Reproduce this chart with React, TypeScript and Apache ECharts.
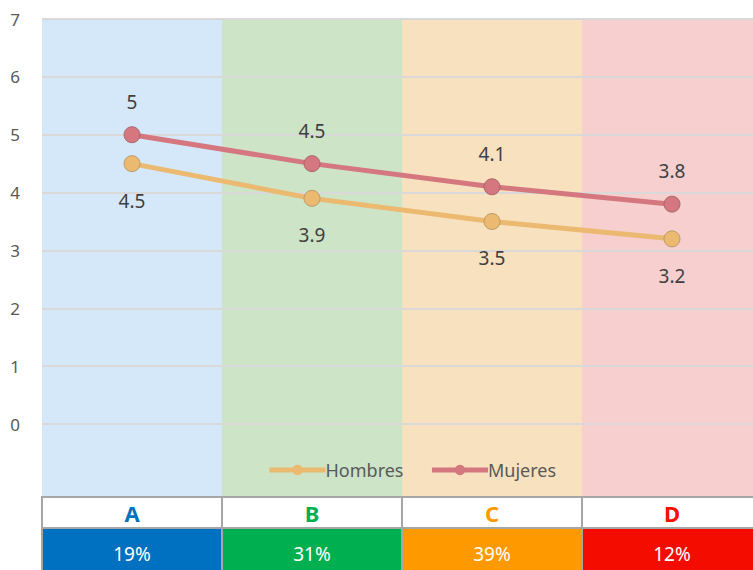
import React, { useEffect, useRef } from "react";
import * as echarts from "echarts";

const categories = ["A", "B", "C", "D"];
const hombres = [4.5, 3.9, 3.5, 3.2];
const mujeres = [5, 4.5, 4.1, 3.8];
const shares = ["19%", "31%", "39%", "12%"];
const bandColors = ["#d5e8fa", "#cde4c7", "#f8e1bf", "#f6cfce"];
const letterColors = ["#0070c0", "#00b050", "#ff9900", "#f51000"];
const cellColors = ["#0070c0", "#00b050", "#ff9900", "#f50c00"];

const BAND_TOP = 7;
const BAND_BOTTOM = -1.26;
const FONT = "'Noto Sans', 'Open Sans', sans-serif";

export default function App() {
  const ref = useRef<HTMLDivElement>(null);
  useEffect(() => {
    if (!ref.current) return;
    const chart = echarts.init(ref.current, null, { renderer: "svg" });
    const cellData: number[][] = [];
    categories.forEach((_, i) => {
      cellData.push([i, 0]);
      cellData.push([i, 1]);
    });
    chart.setOption({
      animation: false,
      textStyle: { fontFamily: FONT },
      grid: [
        { left: 42, top: 19, width: 720, height: 405 },
        { left: 42, top: 497, width: 720, height: 90 },
      ],
      legend: {
        left: 262,
        top: 456,
        itemWidth: 56,
        itemHeight: 13,
        itemGap: 26,
        lineStyle: { width: 5 },
        itemStyle: { borderWidth: 0 },
        textStyle: { color: "#595959", fontSize: 18, fontFamily: FONT, padding: [0, 0, 0, -5] },
        data: ["Hombres", "Mujeres"],
      },
      xAxis: [
        {
          type: "category",
          data: categories,
          gridIndex: 0,
          axisLine: { show: false },
          axisTick: { show: false },
          axisLabel: { show: false },
        },
        {
          type: "category",
          data: categories,
          gridIndex: 1,
          show: false,
        },
      ],
      yAxis: [
        {
          type: "value",
          gridIndex: 0,
          min: 0,
          max: 7,
          interval: 1,
          z: 1,
          axisLine: { show: false },
          axisTick: { show: false },
          axisLabel: { color: "#595959", fontSize: 17, margin: 22, fontFamily: FONT },
          splitLine: { lineStyle: { color: "#d9d9d9", width: 2 } },
        },
        {
          type: "value",
          gridIndex: 1,
          min: 0,
          max: 90,
          inverse: true,
          show: false,
        },
      ],
      series: [
        {
          type: "custom",
          xAxisIndex: 0,
          yAxisIndex: 0,
          z: 0,
          silent: true,
          clip: false,
          data: categories.map((_, i) => [i]),
          renderItem: (params: any, api: any) => {
            const i = api.value(0);
            const top = api.coord([i, BAND_TOP]);
            const bottom = api.coord([i, BAND_BOTTOM]);
            const w = api.size([1, 0])[0];
            return {
              type: "rect",
              shape: { x: top[0] - w / 2, y: top[1] + 1, width: w, height: bottom[1] - top[1] - 1 },
              style: { fill: bandColors[i] },
            };
          },
        },
        {
          name: "Hombres",
          type: "line",
          data: hombres,
          z: 3,
          symbol: "circle",
          symbolSize: 16,
          lineStyle: { color: "#ebb96f", width: 5 },
          itemStyle: { color: "#ebb96f", borderColor: "#b08f60", borderWidth: 0.8 },
          label: {
            show: true,
            position: "bottom",
            distance: 19,
            color: "#404040",
            fontSize: 19,
            fontFamily: FONT,
          },
        },
        {
          name: "Mujeres",
          type: "line",
          data: mujeres,
          z: 3,
          symbol: "circle",
          symbolSize: 16,
          lineStyle: { color: "#d4777e", width: 5 },
          itemStyle: { color: "#d4777e", borderColor: "#a05a60", borderWidth: 0.8 },
          label: {
            show: true,
            position: "top",
            distance: 15,
            color: "#404040",
            fontSize: 19,
            fontFamily: FONT,
          },
        },
        {
          type: "custom",
          xAxisIndex: 1,
          yAxisIndex: 1,
          silent: true,
          clip: false,
          data: cellData,
          renderItem: (params: any, api: any) => {
            const i = api.value(0);
            const row = api.value(1);
            const w = api.size([1, 0])[0];
            const y0 = row === 0 ? 0 : 31;
            const y1 = row === 0 ? 31 : 85;
            const ty = row === 0 ? 16 : 57;
            const p0 = api.coord([i, y0]);
            const p1 = api.coord([i, y1]);
            const pt = api.coord([i, ty]);
            return {
              type: "group",
              children: [
                {
                  type: "rect",
                  shape: { x: p0[0] - w / 2, y: p0[1], width: w, height: p1[1] - p0[1] },
                  style: {
                    fill: row === 0 ? "#ffffff" : cellColors[i],
                    stroke: "#a6a6a6",
                    lineWidth: 2,
                  },
                },
                {
                  type: "text",
                  style: {
                    text: row === 0 ? categories[i] : shares[i],
                    x: pt[0],
                    y: pt[1],
                    align: "center",
                    verticalAlign: "middle",
                    fill: row === 0 ? letterColors[i] : "#ffffff",
                    font: row === 0 ? `bold 22px ${FONT}` : `19px ${FONT}`,
                  },
                },
              ],
            };
          },
        },
      ],
    });
    return () => chart.dispose();
  }, []);
  return (
    <div style={{ position: "absolute", left: 0, top: 0, width: 753, height: 570, overflow: "hidden" }}>
      <div ref={ref} style={{ width: 780, height: 600 }} />
    </div>
  );
}
